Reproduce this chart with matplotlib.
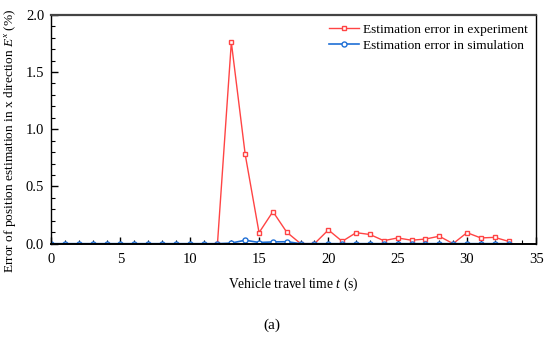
import numpy as np
import matplotlib.pyplot as plt
from matplotlib.ticker import MultipleLocator

plt.rcParams['font.family'] = ['Liberation Serif', 'DejaVu Serif']
plt.rcParams['mathtext.fontset'] = 'custom'
plt.rcParams['mathtext.it'] = 'Liberation Serif:italic'
plt.rcParams['mathtext.rm'] = 'Liberation Serif'

# experiment (starts at t = 12 s)
t_exp = np.arange(12, 34)
err_exp = [0.0, 1.76, 0.78, 0.096, 0.28, 0.10, 0.0, 0.0, 0.12, 0.02, 0.096,
           0.08, 0.026, 0.05, 0.03, 0.04, 0.065, 0.0, 0.096, 0.05, 0.055, 0.02]

# simulation
t_sim = np.arange(0, 34)
err_sim = [0.0] * 13 + [0.005, 0.03, 0.01, 0.015, 0.017, 0.0, 0.0, 0.0, 0.0,
                        0.0, 0.0, 0.0, 0.0, 0.0, 0.0, 0.0, 0.0, 0.0, 0.0, 0.0, 0.0]

f = plt.figure(figsize=(5.5, 3.37), dpi=100)
ax = f.add_axes([0.093, 0.277, 0.882, 0.679])

ax.plot(t_exp, err_exp, '-', color='#ff4444', lw=1.0, marker='s', ms=3.4,
        mfc='white', mec='#ff4444', mew=1.0, label='Estimation error in experiment')
ax.plot(t_sim, err_sim, '-', color='#1f6fd6', lw=1.2, marker='o', ms=3.6,
        mfc='white', mec='#1f6fd6', mew=1.0, label='Estimation error in simulation')

ax.set_xlim(0, 35)
ax.set_ylim(0, 2.0)
ax.xaxis.set_major_locator(MultipleLocator(5))
ax.xaxis.set_minor_locator(MultipleLocator(1))
ax.yaxis.set_major_locator(MultipleLocator(0.5))
ax.yaxis.set_minor_locator(MultipleLocator(0.1))
ax.yaxis.set_major_formatter(plt.FormatStrFormatter('%.1f'))
ax.tick_params(which='both', direction='in', top=False, right=False, labelsize=10.5)
ax.tick_params(which='major', length=5, width=1)
ax.tick_params(axis='x', which='major', pad=7)
ax.tick_params(axis='y', which='major', pad=5)
ax.tick_params(which='minor', length=3, width=0.8)
for s in ax.spines.values():
    s.set_linewidth(1.0)
ax.spines['top'].set_linewidth(1.6)
ax.spines['top'].set_color('#444444')
ax.spines['bottom'].set_linewidth(1.4)

ax.set_xlabel('Vehicle travel time $t$ (s)', fontsize=9.8, labelpad=7)
ax.set_ylabel('Error of position estimation in x direction $E^x$ (%)', fontsize=9.6)
ax.yaxis.set_label_coords(-0.068, 0.45)

ax.legend(loc='upper right', frameon=False, fontsize=9.6, handlelength=2.2,
          handletextpad=0.3, borderaxespad=0.25, labelspacing=0.3)

f.text(0.495, 0.036, '(a)', ha='center', va='center', fontsize=11)

f.savefig('out.png', dpi=100)
